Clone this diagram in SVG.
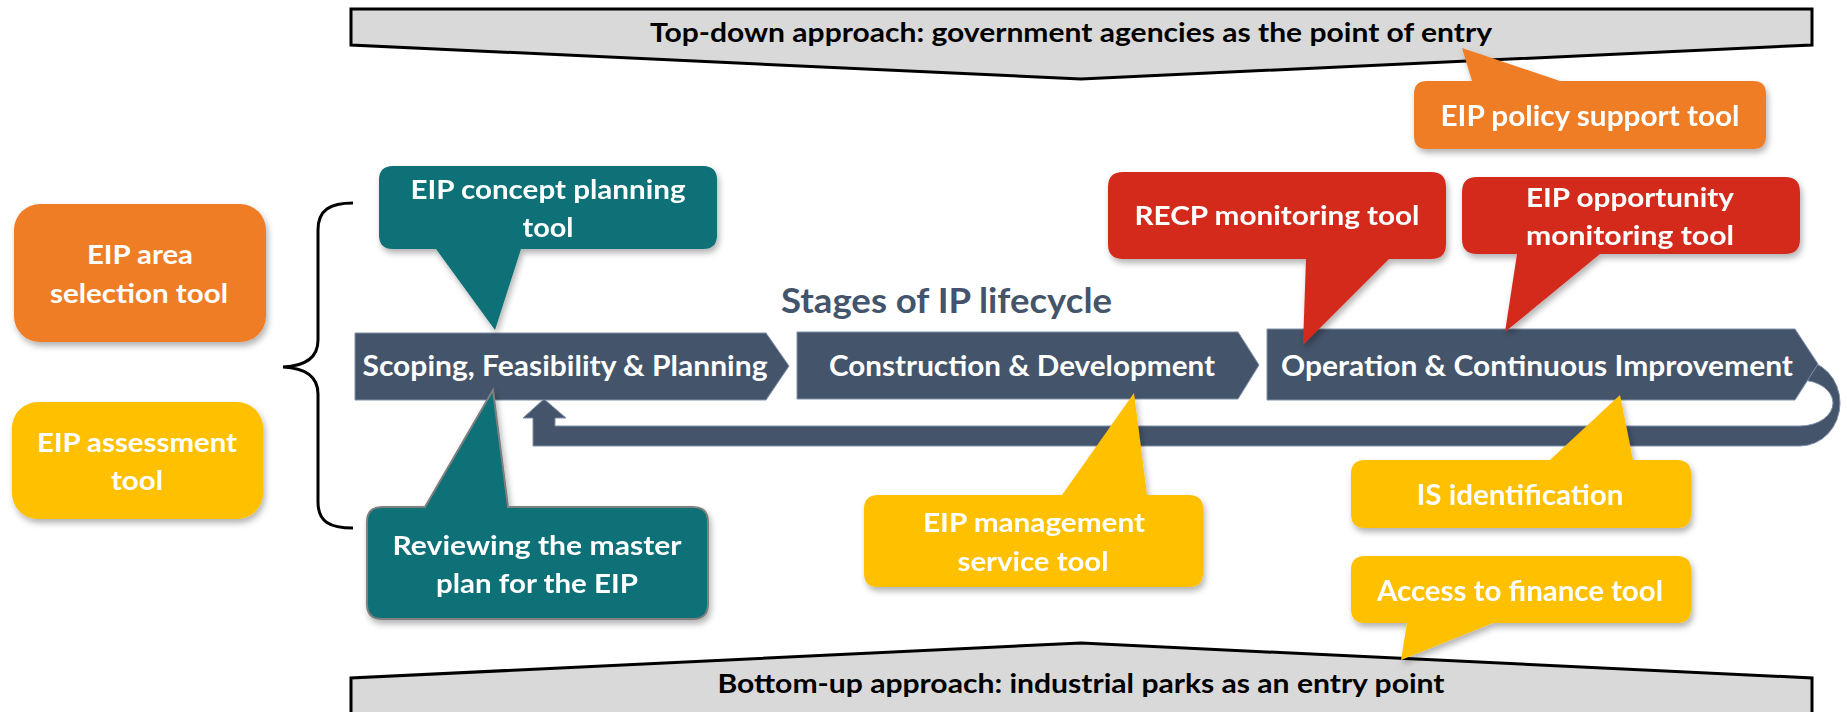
<svg xmlns="http://www.w3.org/2000/svg" width="1847" height="712" viewBox="0 0 1847 712">
<defs>
<filter id="sh" x="-10%" y="-10%" width="130%" height="140%">
<feDropShadow dx="2" dy="4" stdDeviation="3" flood-color="#000" flood-opacity="0.3"/>
</filter>
</defs>
<style>
text{font-family:Lato,"Open Sans","Liberation Sans",sans-serif;font-weight:700;text-anchor:middle}
.w{fill:#fff;font-size:27px}
.cw{fill:#fff;font-size:28px}
.bk{fill:#000;font-size:27px}
.banner{fill:#d9d9d9;stroke:#000;stroke-width:3;stroke-linejoin:miter}
.chev{fill:#44546a;stroke:#8090a8;stroke-width:1}
.orange{fill:#ee7d28}
.yellow{fill:#ffc000}
.teal{fill:#087177}
.red{fill:#d42c1f}
.brace{fill:none;stroke:#000;stroke-width:3}
</style>
<rect width="1847" height="712" fill="#fff"/>

<g id="top-banner">
<polygon class="banner" points="351,9 1812,9 1812,45 1081,79 351,45"/>
<text class="bk" x="1071" y="42" textLength="842" lengthAdjust="spacingAndGlyphs">Top-down approach: government agencies as the point of entry</text>
</g>

<g id="bottom-banner">
<polygon class="banner" points="351,714 351,678 1081,643 1812,678 1812,714"/>
<text class="bk" x="1081" y="693" textLength="727" lengthAdjust="spacingAndGlyphs">Bottom-up approach: industrial parks as an entry point</text>
</g>

<g id="brace">
<path class="brace" d="M353,203 C330,203 318,210 318,230 L318,340 C318,358 305,366 283,367 C305,368 318,376 318,394 L318,502 C318,522 330,528 353,528"/>
</g>

<g id="area-selection">
<rect class="orange" x="14" y="204" width="252" height="138" rx="26" filter="url(#sh)"/>
<text class="w" x="140" y="264" textLength="106" lengthAdjust="spacingAndGlyphs">EIP area</text>
<text class="w" x="139" y="303" textLength="178" lengthAdjust="spacingAndGlyphs">selection tool</text>
</g>

<g id="assessment">
<rect class="yellow" x="12" y="402" width="251" height="117" rx="26" filter="url(#sh)"/>
<text class="w" x="137" y="452" textLength="200" lengthAdjust="spacingAndGlyphs">EIP assessment</text>
<text class="w" x="137" y="490" textLength="52" lengthAdjust="spacingAndGlyphs">tool</text>
</g>

<g id="stages-title">
<text x="781" y="313" style="text-anchor:start;font-size:34px;fill:#44546a" textLength="331" lengthAdjust="spacingAndGlyphs">Stages of IP lifecycle</text>
</g>

<g id="connectors">
<path class="chev" d="M544,399 L566,418 L555,418 L555,426 L1800,426 A33,23 0 0 0 1800,380 L1790,380 L1790,360 L1800,360 A40,43 0 0 1 1800,446 L533,446 L533,418 L523,418 Z"/>
</g>

<g id="stage-scoping">
<polygon class="chev" points="355,333 766,333 789,366 766,400 355,400"/>
<text class="cw" x="565" y="376" textLength="405" lengthAdjust="spacingAndGlyphs">Scoping, Feasibility &amp; Planning</text>
</g>

<g id="stage-construction">
<polygon class="chev" points="797,332 1238,332 1259,365 1238,399 797,399"/>
<text class="cw" x="1022" y="376" textLength="386" lengthAdjust="spacingAndGlyphs">Construction &amp; Development</text>
</g>

<g id="stage-operation">
<polygon class="chev" points="1267,329 1795,329 1818,364 1795,400 1267,400"/>
<text class="cw" x="1537" y="376" textLength="512" lengthAdjust="spacingAndGlyphs">Operation &amp; Continuous Improvement</text>
</g>

<g id="concept-planning" filter="url(#sh)">
<path class="teal" d="M393,166 L703,166 Q717,166 717,180 L717,235 Q717,249 703,249 L521,249 L495,330 L436,249 L393,249 Q379,249 379,235 L379,180 Q379,166 393,166 Z"/>
<text class="w" x="548" y="199" textLength="275" lengthAdjust="spacingAndGlyphs">EIP concept planning</text>
<text class="w" x="548" y="237" textLength="51" lengthAdjust="spacingAndGlyphs">tool</text>
</g>

<g id="reviewing-master-plan" filter="url(#sh)">
<path class="teal" stroke="#7f7f7f" stroke-width="2" d="M382,507 L425,507 L493,390 L508,507 L693,507 Q708,507 708,522 L708,604 Q708,619 693,619 L382,619 Q367,619 367,604 L367,522 Q367,507 382,507 Z"/>
<text class="w" x="537" y="555" textLength="289" lengthAdjust="spacingAndGlyphs">Reviewing the master</text>
<text class="w" x="537" y="593" textLength="202" lengthAdjust="spacingAndGlyphs">plan for the EIP</text>
</g>

<g id="management-service" filter="url(#sh)">
<path class="yellow" d="M878,495 L1062,495 L1134,393 L1147,495 L1189,495 Q1203,495 1203,509 L1203,573 Q1203,587 1189,587 L878,587 Q864,587 864,573 L864,509 Q864,495 878,495 Z"/>
<text class="w" x="1034" y="532" textLength="222" lengthAdjust="spacingAndGlyphs">EIP management</text>
<text class="w" x="1033" y="571" textLength="151" lengthAdjust="spacingAndGlyphs">service tool</text>
</g>

<g id="recp-monitoring" filter="url(#sh)">
<path class="red" d="M1123,172 L1431,172 Q1446,172 1446,187 L1446,244 Q1446,259 1431,259 L1389,259 L1303,345 L1306,259 L1123,259 Q1108,259 1108,244 L1108,187 Q1108,172 1123,172 Z"/>
<text class="w" x="1277" y="225" textLength="285" lengthAdjust="spacingAndGlyphs">RECP monitoring tool</text>
</g>

<g id="opportunity-monitoring" filter="url(#sh)">
<path class="red" d="M1477,177 L1785,177 Q1800,177 1800,192 L1800,239 Q1800,254 1785,254 L1600,254 L1505,332 L1517,254 L1477,254 Q1462,254 1462,239 L1462,192 Q1462,177 1477,177 Z"/>
<text class="w" x="1630" y="207" textLength="208" lengthAdjust="spacingAndGlyphs">EIP opportunity</text>
<text class="w" x="1630" y="245" textLength="208" lengthAdjust="spacingAndGlyphs">monitoring tool</text>
</g>

<g id="policy-support" filter="url(#sh)">
<path class="orange" d="M1427,81 L1472,81 L1462,48 L1560,81 L1753,81 Q1766,81 1766,94 L1766,136 Q1766,149 1753,149 L1427,149 Q1414,149 1414,136 L1414,94 Q1414,81 1427,81 Z"/>
<text class="cw" x="1590" y="126" textLength="299" lengthAdjust="spacingAndGlyphs">EIP policy support tool</text>
</g>

<g id="is-identification" filter="url(#sh)">
<path class="yellow" d="M1365,460 L1550,460 L1620,395 L1633,460 L1677,460 Q1691,460 1691,474 L1691,514 Q1691,528 1677,528 L1365,528 Q1351,528 1351,514 L1351,474 Q1351,460 1365,460 Z"/>
<text class="cw" x="1520" y="505" textLength="207" lengthAdjust="spacingAndGlyphs">IS identification</text>
</g>

<g id="access-finance" filter="url(#sh)">
<path class="yellow" d="M1365,556 L1677,556 Q1691,556 1691,570 L1691,609 Q1691,623 1677,623 L1493,623 L1401,660 L1407,623 L1365,623 Q1351,623 1351,609 L1351,570 Q1351,556 1365,556 Z"/>
<text class="cw" x="1520" y="601" textLength="286" lengthAdjust="spacingAndGlyphs">Access to finance tool</text>
</g>
</svg>
